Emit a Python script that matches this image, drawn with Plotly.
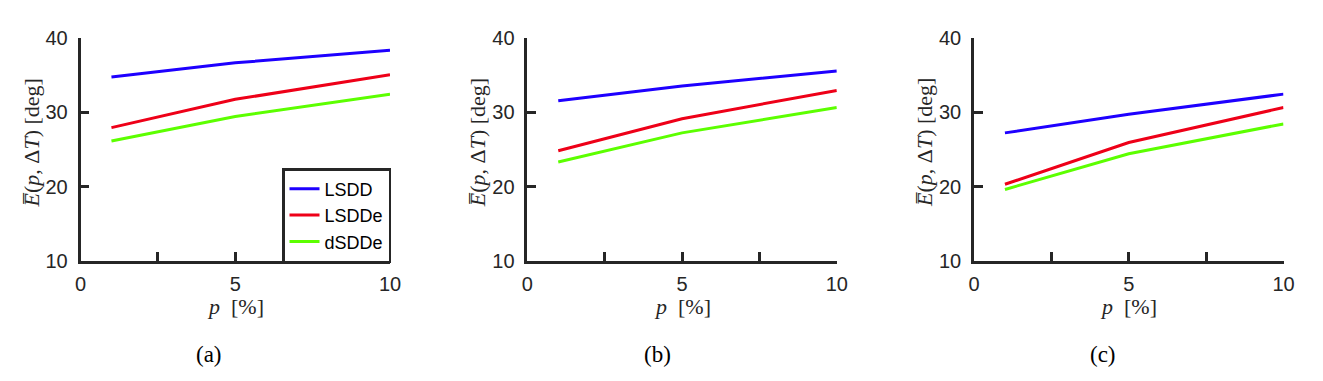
import plotly.graph_objects as go

# ---- data ----
p_values = [1, 5, 10]
series_names = ["LSDD", "LSDDe", "dSDDe"]
panel_labels = ["(a)", "(b)", "(c)"]

a_LSDD = [34.7, 36.6, 38.3]
a_LSDDe = [27.9, 31.7, 35.0]
a_dSDDe = [26.1, 29.4, 32.4]

b_LSDD = [31.5, 33.5, 35.5]
b_LSDDe = [24.8, 29.1, 32.9]
b_dSDDe = [23.3, 27.2, 30.6]

c_LSDD = [27.2, 29.7, 32.4]
c_LSDDe = [20.3, 25.9, 30.6]
c_dSDDe = [19.6, 24.4, 28.4]

y_ticks = [10, 20, 30, 40]
x_ticks = [0, 2.5, 5, 7.5, 10]
x_ticktext = ["0", "", "5", "", "10"]

panels = [
    [a_LSDD, a_LSDDe, a_dSDDe],
    [b_LSDD, b_LSDDe, b_dSDDe],
    [c_LSDD, c_LSDDe, c_dSDDe],
]
colors = ["#1e00ff", "#ee0018", "#5cff00"]

# page body has an 8px margin; figure is placed inside it
OFF = 8
W, H = 1323 - OFF, 381 - OFF


def px_x(v):
    return (v - OFF) / W


def px_y(v):
    return 1 - (v - OFF) / H


x_left_px = [80.5, 527.3, 974.0]
x_width_px = 309.5
y_top_px, y_bot_px = 37.5, 261.0
ydom = [px_y(y_bot_px), px_y(y_top_px)]
axis_col = "#262626"

fig = go.Figure()
layout = dict(
    template="none",
    width=W, height=H, autosize=False,
    margin=dict(l=0, r=0, t=0, b=0, pad=0, autoexpand=False),
    paper_bgcolor="white", plot_bgcolor="white",
    showlegend=True,
    legend=dict(
        x=px_x(282), y=px_y(168), xanchor="left", yanchor="top",
        bgcolor="white", bordercolor=axis_col, borderwidth=2.5,
        font=dict(family="Liberation Sans, Arial", size=18, color="black"),
        tracegroupgap=0, itemwidth=30,
    ),
    annotations=[],
)

for i, data in enumerate(panels):
    k = "" if i == 0 else str(i + 1)
    xa, ya = "x" + k, "y" + k
    for name, vals, col in zip(series_names, data, colors):
        fig.add_trace(go.Scatter(
            x=p_values, y=vals, mode="lines", name=name,
            line=dict(color=col, width=3), xaxis=xa, yaxis=ya,
            showlegend=(i == 0),
        ))
    common = dict(
        ticks="inside", ticklen=9, tickwidth=2.5, tickcolor=axis_col,
        showline=True, linecolor=axis_col, linewidth=2.5,
        showgrid=False, zeroline=False, mirror=False, automargin=False,
        tickfont=dict(family="Liberation Sans, Arial", size=20, color=axis_col),
        fixedrange=True,
    )
    layout["xaxis" + k] = dict(
        domain=[px_x(x_left_px[i]), px_x(x_left_px[i] + x_width_px)],
        range=[0, 10], anchor=ya,
        tickvals=x_ticks, ticktext=x_ticktext, ticklabelstandoff=3, **common,
    )
    layout["yaxis" + k] = dict(
        domain=ydom, range=[10, 40], anchor=xa,
        tickvals=y_ticks, ticklabelstandoff=6, **common,
    )
    cx = px_x(x_left_px[i] + x_width_px / 2)
    # y title
    layout["annotations"].append(dict(
        text="<i>E\u0305</i>(<i>p</i>, \u0394<i>T</i>) [deg]",
        x=px_x(x_left_px[i] - 50), y=px_y(143),
        xref="paper", yref="paper", textangle=-90, showarrow=False,
        xanchor="center", yanchor="middle",
        font=dict(family="Liberation Serif, DejaVu Serif", size=22, color=axis_col),
    ))
    # x title
    layout["annotations"].append(dict(
        text="<i>p</i>  [%]",
        x=cx, y=px_y(306), xref="paper", yref="paper", showarrow=False,
        xanchor="center", yanchor="middle",
        font=dict(family="Liberation Serif, DejaVu Serif", size=22, color=axis_col),
    ))
    # panel label
    cap_x = [209, 657, 1103][i]
    layout["annotations"].append(dict(
        text=panel_labels[i],
        x=px_x(cap_x), y=px_y(354), xref="paper", yref="paper", showarrow=False,
        xanchor="center", yanchor="middle",
        font=dict(family="Liberation Serif, Times New Roman", size=23, color="black"),
    ))

fig.update_layout(**layout)
fig.write_html("out.html")
